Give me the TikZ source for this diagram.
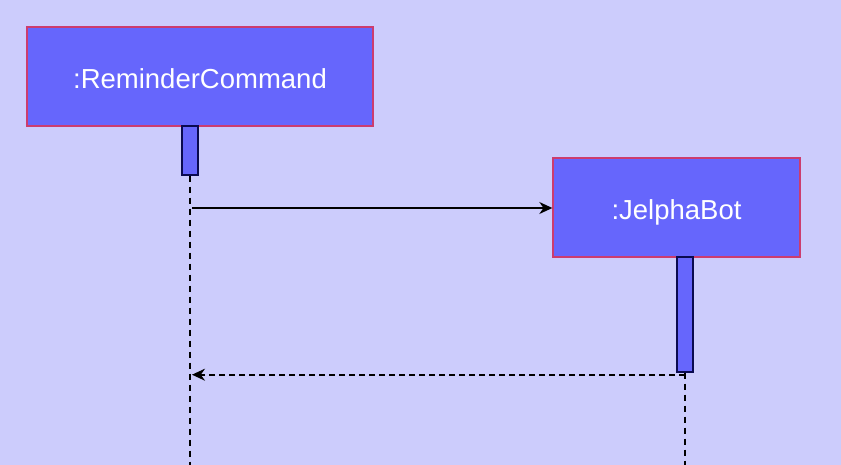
\documentclass[tikz,border=0pt]{standalone}
\usepackage{fontspec}
\setmainfont{Liberation Sans}
\usepackage{tikz}
\usetikzlibrary{arrows.meta, positioning}

\definecolor{bgcol}{RGB}{204,204,252}
\definecolor{objfill}{RGB}{102,102,252}
\definecolor{objline}{RGB}{204,60,110}
\definecolor{actline}{RGB}{10,10,80}

\begin{document}
\begin{tikzpicture}[
        x=1pt, y=-1pt,
        obj/.style={rectangle, draw=objline, fill=objfill, line width=1.4pt, text=white,
            font=\fontsize{27.5}{30}\selectfont, inner sep=0pt, text height=24pt, text depth=0pt},
        act/.style={rectangle, draw=actline, fill=objfill, line width=1.4pt,
            minimum width=16pt, inner sep=0pt},
        msg/.style={line width=1.6pt, -{Stealth[length=13pt, width=12pt]}},
        reply/.style={msg, dash pattern=on 6pt off 4pt},
        lifeline/.style={line width=1.4pt, dash pattern=on 6pt off 5pt}
    ]
    \fill[bgcol] (0,0) rectangle (841,465);
    \useasboundingbox (0,0) rectangle (841,465);

    \node[obj, minimum width=346pt, minimum height=99pt] (cmd) at (200,76.5) {:ReminderCommand};
    \node[obj, minimum width=247pt, minimum height=99pt] (bot) at (676.5,207.5) {:JelphaBot};

    \node[act, minimum height=49pt] (cmdact) at (190,150.5) {};
    \node[act, minimum height=115pt] (botact) at (685,314.5) {};

    \coordinate (bottom) at (0,465);
    \coordinate (call) at (192,208);

    % lifelines
    \draw[lifeline] (cmdact.south) -- (cmdact.south |- bottom);
    \draw[lifeline] (botact.south) -- (botact.south |- bottom);

    % messages
    \draw[msg] (call) -- (call -| bot.west);
    \draw[reply] ([yshift=-2pt]botact.south) -- ([yshift=-2pt]botact.south -| call);
\end{tikzpicture}
\end{document}
